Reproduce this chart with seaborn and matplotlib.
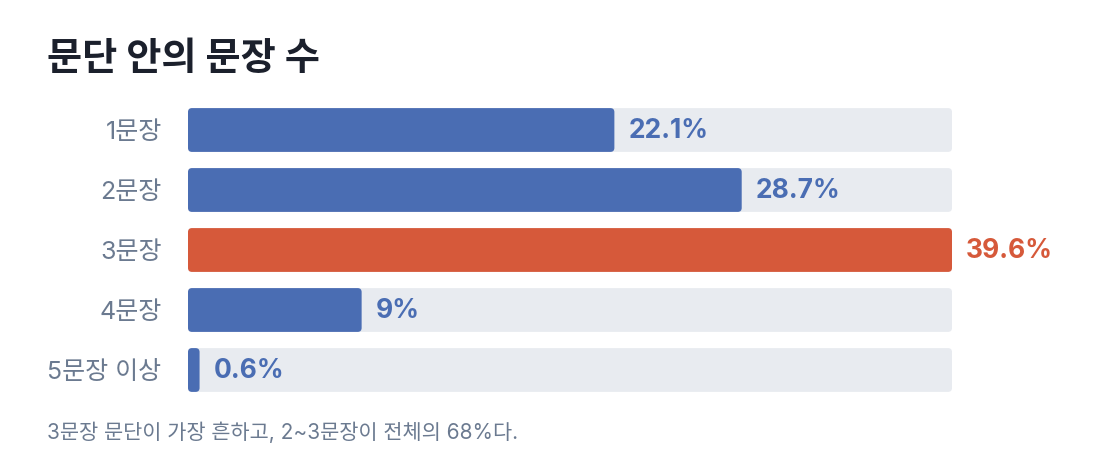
import numpy as np
import pandas as pd
import matplotlib
matplotlib.use("Agg")
import matplotlib.pyplot as plt
import seaborn as sns
from matplotlib.patches import FancyBboxPatch

categories = ["1문장", "2문장", "3문장", "4문장", "5문장 이상"]
shares = [22.1, 28.7, 39.6, 9, 0.6]
value_labels = ["22.1%", "28.7%", "39.6%", "9%", "0.6%"]
highlight = "3문장"

title = "문단 안의 문장 수"
note = "3문장 문단이 가장 흔하고, 2~3문장이 전체의 68%다."

BLUE = "#4a6db3"
ORANGE = "#d6593a"
TRACK = "#e8ebf0"
GRAY = "#6b7a90"
DARK = "#1b202c"

sns.set_theme(style="white")
plt.rcParams["font.family"] = ["Inter", "Noto Sans CJK KR", "DejaVu Sans"]

df = pd.DataFrame({"cat": categories, "share": shares})
xmax = max(shares)
df["track"] = xmax

fig = plt.figure(figsize=(11, 4.72), dpi=100)
W, H = 1100, 472
ax = fig.add_axes([188 / W, (H - 400) / H, 764 / W, 300 / H])

sns.barplot(data=df, y="cat", x="track", color=TRACK, width=0.73, ax=ax,
            orient="h", saturation=1)
colors = [ORANGE if c == highlight else BLUE for c in categories]
sns.barplot(data=df, y="cat", x="share", hue="cat", palette=colors,
            width=0.73, ax=ax, orient="h", legend=False, saturation=1)

ax.set_xlim(0, xmax)
ax.set_ylim(4.5, -0.5)

# swap the square bars for rounded ones
px_x = xmax / 764
px_y = 1 / 60
for p in list(ax.patches):
    x0, y0 = p.get_x(), p.get_y()
    w, h = p.get_width(), p.get_height()
    fc = p.get_facecolor()
    p.set_visible(False)
    r = min(4 * px_x, w / 2)
    ax.add_patch(FancyBboxPatch((x0, y0), w, h,
                                boxstyle=f"round,pad=0,rounding_size={r}",
                                mutation_aspect=px_y / px_x,
                                facecolor=fc, edgecolor="none", zorder=2))

for i, (v, lab, c) in enumerate(zip(shares, value_labels, categories)):
    ax.text(v + 14 * px_x, i + 0.02, lab, va="center", ha="left", fontsize=19,
            fontweight="bold", color=ORANGE if c == highlight else BLUE,
            zorder=3, clip_on=False)

ax.set_xlabel("")
ax.set_ylabel("")
ax.set_xticks([])
ax.tick_params(axis="y", length=0, pad=19, labelsize=18, labelcolor=GRAY)
sns.despine(ax=ax, left=True, bottom=True)

fig.text(47 / W, 1 - 60 / H, title, fontsize=27.5, fontweight="bold",
         color=DARK, va="center", ha="left")
fig.text(47 / W, 1 - 432 / H, note, fontsize=15, color=GRAY,
         va="center", ha="left")

fig.savefig("out.png", dpi=100)
